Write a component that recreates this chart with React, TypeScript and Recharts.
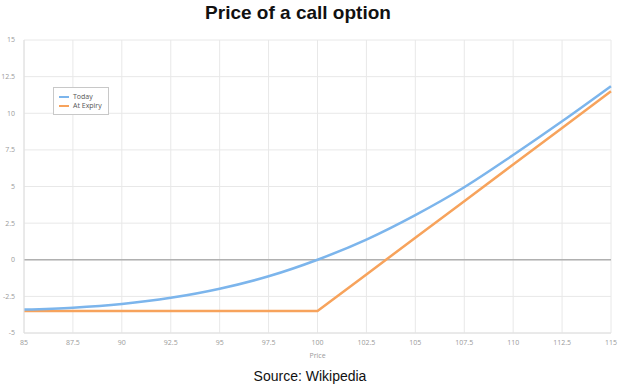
import React from "react";
import { LineChart, Line, XAxis, YAxis, CartesianGrid, ReferenceLine, Label } from "recharts";

const prices = [85, 87.5, 90, 92.5, 95, 97.5, 100, 102.5, 105, 107.5, 110, 112.5, 115];
const today = [-3.4, -3.27, -3.02, -2.6, -1.98, -1.13, 0, 1.38, 3.05, 4.95, 7.15, 9.45, 11.85];
const atExpiry = [-3.5, -3.5, -3.5, -3.5, -3.5, -3.5, -3.5, -1.0, 1.5, 4.0, 6.5, 9.0, 11.5];
const xTicks = [85, 87.5, 90, 92.5, 95, 97.5, 100, 102.5, 105, 107.5, 110, 112.5, 115];
const yTicks = [-5, -2.5, 0, 2.5, 5, 7.5, 10, 12.5, 15];
const legendItems = ["Today", "At Expiry"];

const data = prices.map((p, i) => ({ price: p, today: today[i], expiry: atExpiry[i] }));

const BLUE = "#7cb5ec";
const ORANGE = "#f7a35c";
const COLORS = [BLUE, ORANGE];
const tickStyle = { fontSize: 7, fill: "#9a9a9a", fontFamily: "Open Sans" };

const LegendBox = () => (
  <div
    style={{
      position: "absolute",
      left: 53,
      top: 87,
      border: "1px solid #c8c8c8",
      background: "#fff",
      width: 56,
      height: 28,
      boxSizing: "border-box",
      padding: "4px 0 0 5px",
      fontFamily: "Open Sans",
      fontSize: 7,
      color: "#555",
      lineHeight: "9px",
    }}
  >
    {legendItems.map((name, i) => (
      <div key={name} style={{ display: "flex", alignItems: "center" }}>
        <span style={{ display: "inline-block", width: 10, height: 2, background: COLORS[i], marginRight: 4 }} />
        <span>{name}</span>
      </div>
    ))}
  </div>
);

export default function App() {
  return (
    <div style={{ position: "absolute", left: 0, top: 0, width: 620, height: 391, background: "#fff" }}>
      <div
        style={{
          position: "absolute",
          left: -12,
          top: 2,
          width: 620,
          textAlign: "center",
          fontFamily: "Liberation Sans",
          fontWeight: "bold",
          fontSize: 19,
          color: "#111",
        }}
      >
        Price of a call option
      </div>
      <LineChart width={620} height={391} data={data} margin={{ top: 40, right: 9, bottom: 28, left: 0 }}>
        <CartesianGrid stroke="#e8e8e8" strokeWidth={1} />
        <XAxis
          dataKey="price"
          type="number"
          domain={[85, 115]}
          ticks={xTicks}
          interval={0}
          height={30}
          tickSize={0}
          tickMargin={7}
          axisLine={{ stroke: "#e0e0e0" }}
          tick={tickStyle}
        >
          <Label value="Price" position="insideBottom" offset={5} style={{ fontSize: 7, fill: "#9a9a9a", fontFamily: "Open Sans" }} />
        </XAxis>
        <YAxis
          type="number"
          domain={[-5, 15]}
          ticks={yTicks}
          interval={0}
          width={24}
          tickSize={0}
          tickMargin={9}
          axisLine={{ stroke: "#e0e0e0" }}
          tick={tickStyle}
        />
        <ReferenceLine y={0} stroke="#b0b0b0" strokeWidth={1.5} />
        <Line type="linear" dataKey="expiry" stroke={ORANGE} strokeWidth={2.5} dot={false} isAnimationActive={false} />
        <Line type="monotone" dataKey="today" stroke={BLUE} strokeWidth={2.5} dot={false} isAnimationActive={false} />
      </LineChart>
      <LegendBox />
      <div
        style={{
          position: "absolute",
          left: 0,
          top: 368,
          width: 620,
          textAlign: "center",
          fontFamily: "Liberation Sans",
          fontSize: 14,
          color: "#111",
        }}
      >
        Source: Wikipedia
      </div>
    </div>
  );
}
